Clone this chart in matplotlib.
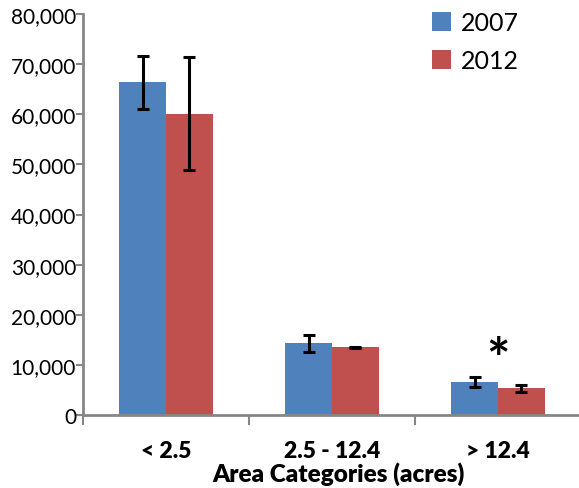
import matplotlib.pyplot as plt
import numpy as np
from matplotlib.ticker import FuncFormatter

# parcel counts per area class, two survey years
categories = ["< 2.5", "2.5 - 12.4", "> 12.4"]
years = ["2007", "2012"]
counts_2007 = [66400, 14300, 6600]
counts_2012 = [60100, 13500, 5300]
err_2007 = [5300, 1650, 1050]
err_2012 = [11300, 150, 750]
signif = ["", "", "*"]

blue = "#4F81BD"
red = "#C0504D"
axis_grey = "#868686"

plt.rcParams['font.family'] = ['Lato', 'DejaVu Sans']

fig = plt.figure(figsize=(5.79, 4.89), dpi=100)
# axis runs off the right edge, like the original slide
ax = fig.add_axes([83 / 579, 73 / 489, 498 / 579, 401 / 489])

x = np.arange(len(categories))
w = 0.283
ekw = dict(ecolor="black", elinewidth=2.2, capsize=4, capthick=2.2)
ax.bar(x - w / 2, counts_2007, w, color=blue, label=years[0],
       yerr=err_2007, error_kw=ekw, zorder=2)
ax.bar(x + w / 2, counts_2012, w, color=red, label=years[1],
       yerr=err_2012, error_kw=ekw, zorder=2)

for i, s in enumerate(signif):
    if s:
        top = max(counts_2007[i] + err_2007[i], counts_2012[i] + err_2012[i])
        ax.text(x[i], top + 3200, s, ha="center", va="center",
                fontsize=40, fontweight="bold")

ax.set_xlim(-0.5, 2.5)
ax.set_ylim(0, 80000)
ax.set_yticks(np.arange(0, 80001, 10000))
ax.yaxis.set_major_formatter(FuncFormatter(lambda v, p: f"{int(v):,}"))

ax.set_xticks(x)
ax.set_xticklabels(categories, fontweight="heavy", fontsize=16.5)
ax.set_xticks(np.arange(-0.5, 3.0, 1.0), minor=True)
ax.tick_params(axis="x", which="major", length=0, pad=18)
ax.tick_params(axis="x", which="minor", length=7, width=1.5, color=axis_grey,
               direction="out")
ax.tick_params(axis="y", length=5, width=1.5, color=axis_grey, pad=0,
               labelsize=15)

for side in ["top", "right"]:
    ax.spines[side].set_visible(False)
for side in ["left", "bottom"]:
    ax.spines[side].set_color(axis_grey)
    ax.spines[side].set_linewidth(2)

fig.text(338 / 579, 1 - 474 / 489, "Area Categories (acres)", ha="center",
         va="center", fontsize=17.5, fontweight="heavy")

leg = fig.legend(loc="upper left", bbox_to_anchor=(432 / 579, 1 - 12 / 489),
                 frameon=False, fontsize=18, handlelength=0.76,
                 handleheight=0.76, handletextpad=0.4, labelspacing=0.6,
                 borderpad=0, borderaxespad=0)

fig.savefig("out.png", dpi=100)
